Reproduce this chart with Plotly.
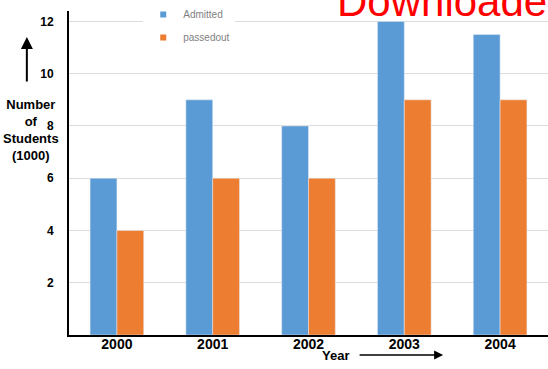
""" Admitted vs passed out students per year """

import plotly.graph_objects as go

# Data (thousands of students)
years = ["2000", "2001", "2002", "2003", "2004"]
admitted = [6, 9, 8, 12, 11.5]
passedout = [4, 6, 6, 9, 9]
y_ticks = [2, 4, 6, 8, 10, 12]

BLUE = "#5B9BD5"
ORANGE = "#ED7D31"
FONT = "Liberation Sans, Arial, sans-serif"

fig = go.Figure()

# Bars (legend handled by small marker traces below)
fig.add_trace(go.Bar(x=years, y=admitted, name="Admitted",
                     marker_color=BLUE, showlegend=False))
fig.add_trace(go.Bar(x=years, y=passedout, name="passedout",
                     marker_color=ORANGE, showlegend=False))

# Legend entries with small square markers
fig.add_trace(go.Scatter(x=[None], y=[None], mode="markers", name="Admitted",
                         legendgroup="a",
                         marker=dict(symbol="square", size=6, color=BLUE)))
fig.add_trace(go.Scatter(x=[None], y=[None], mode="markers", name="passedout",
                         legendgroup="b",
                         marker=dict(symbol="square", size=6, color=ORANGE)))

fig.update_layout(
    width=548, height=369,
    margin=dict(l=69, r=0, t=10, b=34),
    paper_bgcolor="white", plot_bgcolor="white",
    barmode="group", bargap=0.44, bargroupgap=0,
    font=dict(family=FONT, color="black"),
    legend=dict(
        x=0.155, y=1.034, xanchor="left", yanchor="top",
        bgcolor="white", traceorder="grouped", tracegroupgap=4,
        itemwidth=30,
        font=dict(size=10, color="#7f7f7f"),
    ),
    xaxis=dict(
        range=[-0.5, 4.5], showgrid=False,
        showline=True, linecolor="black", linewidth=2,
        ticks="", ticklabelstandoff=-5,
        tickfont=dict(size=14, family=FONT, weight="bold"),
    ),
    yaxis=dict(
        range=[0, 12.4], tickvals=y_ticks,
        showgrid=True, gridcolor="#dcdcdc", gridwidth=1,
        zeroline=False,
        showline=True, linecolor="black", linewidth=2,
        ticks="", ticklabelstandoff=11,
        tickfont=dict(size=12, family=FONT, weight="bold"),
    ),
)

# Y axis caption and upward arrow
fig.add_annotation(
    text="<b>Number<br>of<br>Students<br>(1000)</b>",
    xref="paper", yref="paper", x=-0.08, y=0.634,
    xanchor="center", yanchor="middle", showarrow=False,
    font=dict(size=13, family=FONT), align="center",
)
fig.add_annotation(
    xref="paper", yref="paper", x=-0.088, y=0.92,
    ax=0, ay=46, text="", showarrow=True,
    arrowhead=2, arrowsize=1.2, arrowwidth=2, arrowcolor="black",
)

# X axis caption and right arrow
fig.add_annotation(
    text="<b>Year</b>", xref="paper", yref="paper",
    x=0.557, y=-0.062, xanchor="center", yanchor="middle",
    showarrow=False, font=dict(size=13, family=FONT),
)
fig.add_annotation(
    xref="paper", yref="paper", x=0.781, y=-0.062,
    ax=-85, ay=0, text="", showarrow=True,
    arrowhead=2, arrowsize=1.2, arrowwidth=1.5, arrowcolor="black",
)

# Red watermark text cut off at the top
fig.add_annotation(
    text="Downloaded", xref="paper", yref="paper",
    x=0.555, y=0.95, xanchor="left", yanchor="bottom",
    showarrow=False, font=dict(size=42, family=FONT, color="red"),
)

# drop the default page margin so the figure sits at the window corner
fig.write_html("out.html", config={"displayModeBar": False},
               post_script="document.body.style.margin='0';")
